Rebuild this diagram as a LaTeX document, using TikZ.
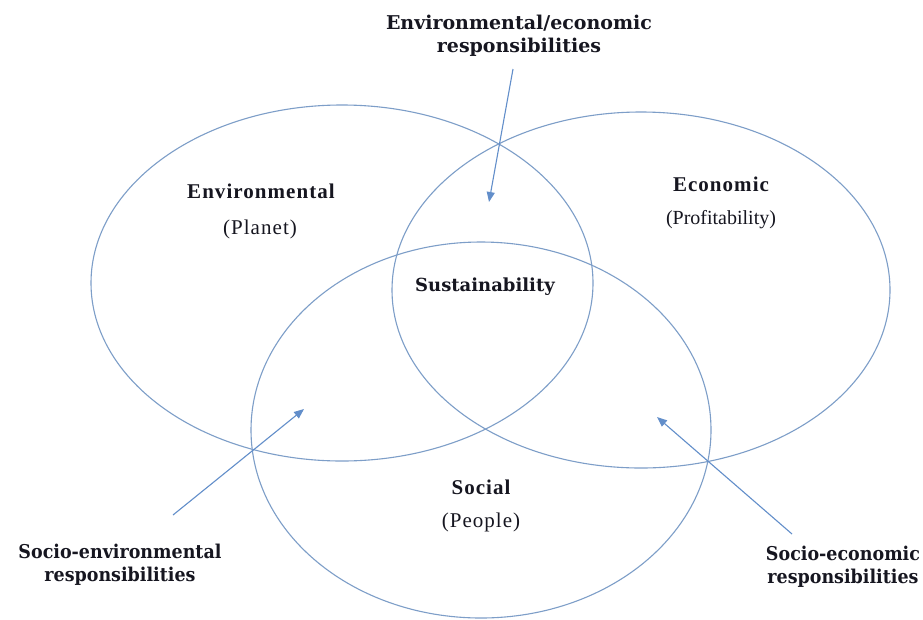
\documentclass[tikz,border=0pt]{standalone}
\usepackage{fontspec}
\usepackage{graphicx}
\usetikzlibrary{arrows.meta}
\setmainfont{Liberation Serif}
\newfontfamily\tmsb[LetterSpace=5]{Liberation Serif Bold}
\newfontfamily\tmsr[LetterSpace=5]{Liberation Serif}
\newfontfamily\tmsn{Liberation Serif}
\newfontfamily\cmb{DejaVu Serif Bold}
\definecolor{ringc}{RGB}{125,158,200}
\definecolor{arrc}{RGB}{98,142,202}
\definecolor{txtc}{RGB}{22,22,32}
\begin{document}
\begin{tikzpicture}[x=1pt,y=-1pt,
  ring/.style={draw=ringc,line width=1.1pt},
  pointer/.style={draw=arrc,line width=1.1pt,-{Triangle[length=10pt,width=8pt]}},
  title/.style={text=txtc,inner sep=0pt,font=\tmsb\fontsize{21}{24}\selectfont},
  sub/.style={text=txtc,inner sep=0pt,font=\tmsr\fontsize{21}{24}\selectfont},
  resp/.style={text=txtc,inner sep=0pt,align=center,font=\cmb\fontsize{19}{23}\selectfont}]
\useasboundingbox (0,0) rectangle (923,619);
\fill[white] (0,0) rectangle (923,619);
% circles
\draw[ring] (342,283) ellipse [x radius=251, y radius=178];
\draw[ring] (641,290) ellipse [x radius=249, y radius=178];
\draw[ring] (481,430) ellipse [x radius=230, y radius=188];
% labels
\node[title] (env) at (261,191) {Environmental};
\node[sub] (planet) at (260,229) {(Planet)};
\node[title] (eco) at (721,184) {Economic};
\node[text=txtc,inner sep=0pt,font=\tmsn\fontsize{20}{24}\selectfont] (profit) at (721,220) {(Profitability)};
\node[title] (soc) at (481,487) {Social};
\node[sub] (people) at (481,522) {(People)};
\node[text=txtc,inner sep=0pt,font=\cmb\fontsize{18}{23}\selectfont] (sust) at (485,287) {Sustainability};
\node[resp] (ee) at (519,36) {Environmental/economic\\responsibilities};
\node[resp] (se) at (120,565) {\scalebox{0.92}[1]{Socio-environmental}\\\scalebox{0.92}[1]{responsibilities}};
\node[resp] (sec) at (843,567) {\scalebox{0.92}[1]{Socio-economic}\\\scalebox{0.92}[1]{responsibilities}};
% arrows
\coordinate (eeA) at (513,69);
\coordinate (eeB) at (489,202);
\coordinate (seA) at (173,515);
\coordinate (seB) at (304,409);
\coordinate (secA) at (792,534);
\coordinate (secB) at (657,417);
\draw[pointer] (eeA) -- (eeB);
\draw[pointer] (seA) -- (seB);
\draw[pointer] (secA) -- (secB);
\end{tikzpicture}
\end{document}
